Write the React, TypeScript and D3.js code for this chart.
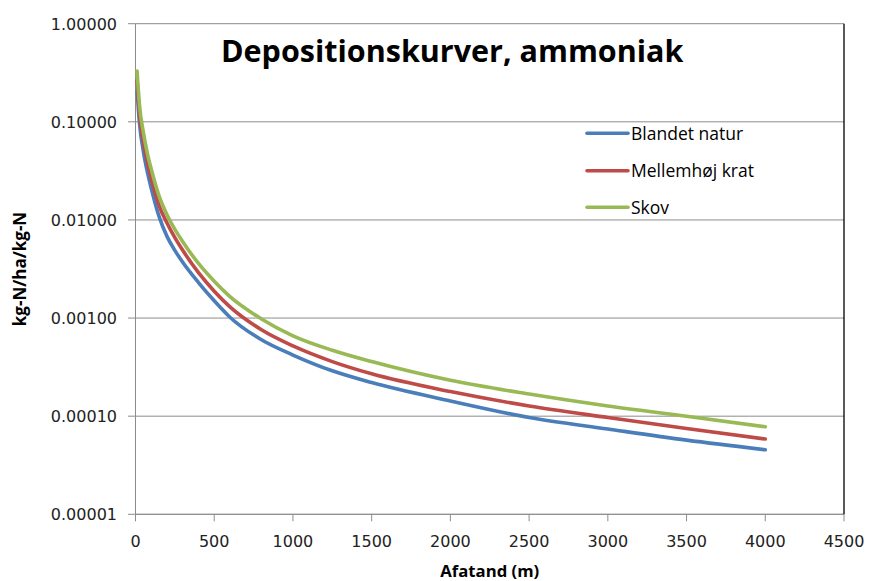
import React from "react";
import * as d3 from "d3";

const distances = [10, 25, 50, 75, 100, 150, 200, 250, 300, 400, 500, 600, 800, 1000, 1250, 1500, 2000, 2500, 3000, 3500, 4000];
const blandetNatur = [0.21, 0.098, 0.05, 0.031, 0.021, 0.0108, 0.0068, 0.0049, 0.0037, 0.0023, 0.0015, 0.00102, 0.0006, 0.00042, 0.00029, 0.00022, 0.000143, 0.000097, 0.000074, 0.000057, 0.0000455];
const mellemhojKrat = [0.265, 0.122, 0.063, 0.039, 0.0265, 0.014, 0.0093, 0.0066, 0.0049, 0.0029, 0.00188, 0.0013, 0.00076, 0.00052, 0.00036, 0.00027, 0.000178, 0.000127, 0.000097, 0.000075, 0.0000585];
const skov = [0.33, 0.15, 0.078, 0.048, 0.033, 0.0175, 0.0113, 0.008, 0.006, 0.0036, 0.00237, 0.00165, 0.00098, 0.00066, 0.00047, 0.00036, 0.000232, 0.000168, 0.000127, 0.0001, 0.000078];

const seriesNames = ["Blandet natur", "Mellemhøj krat", "Skov"];
const seriesColors = ["#4A7EBB", "#BE4B48", "#98B954"];
const seriesValues = [blandetNatur, mellemhojKrat, skov];

const xTicks = [0, 500, 1000, 1500, 2000, 2500, 3000, 3500, 4000, 4500];
const yTicks = [0.00001, 0.0001, 0.001, 0.01, 0.1, 1];

const title = "Depositionskurver, ammoniak";
const xTitle = "Afatand (m)";
const yTitle = "kg-N/ha/kg-N";

export default function App() {
  const W = 869, H = 581;
  const left = 135.5, right = 844, top = 23.7, bottom = 514.3;
  const x = d3.scaleLinear().domain([0, 4500]).range([left, right]);
  const y = d3.scaleLog().domain([0.00001, 1]).range([bottom, top]);
  const fmt = d3.format(".5f");
  const line = d3.line<[number, number]>()
    .x((d) => x(d[0]))
    .y((d) => y(d[1]))
    .curve(d3.curveMonotoneX);

  const tickFont = "'DejaVu Sans', sans-serif";
  const mainFont = "'Open Sans', sans-serif";

  return (
    <svg width={W} height={H} style={{ position: "absolute", left: 0, top: 0, background: "#fff" }}>
      {yTicks.map((t) => (
        <line key={"g" + t} x1={left} x2={right} y1={y(t)} y2={y(t)} stroke="#8c8c8c" strokeWidth={1} />
      ))}
      {yTicks.map((t) => (
        <line key={"yt" + t} x1={left - 7.5} x2={left} y1={y(t)} y2={y(t)} stroke="#8c8c8c" strokeWidth={1} />
      ))}
      {xTicks.map((t) => (
        <line key={"xt" + t} x1={x(t)} x2={x(t)} y1={bottom} y2={bottom + 7} stroke="#8c8c8c" strokeWidth={1} />
      ))}
      <line x1={left} x2={left} y1={top} y2={bottom} stroke="#8c8c8c" strokeWidth={1} />
      <line x1={left} x2={right} y1={bottom} y2={bottom} stroke="#8c8c8c" strokeWidth={1} />
      <line x1={right} x2={right} y1={top} y2={bottom} stroke="#000" strokeWidth={1.3} />

      {yTicks.map((t) => (
        <text key={"yl" + t} x={117} y={y(t) + 5.8} textAnchor="end" fontFamily={tickFont} fontSize={16} fill="#222">
          {fmt(t)}
        </text>
      ))}
      {xTicks.map((t) => (
        <text key={"xl" + t} x={x(t)} y={547} textAnchor="middle" fontFamily={tickFont} fontSize={16} fill="#222">
          {t}
        </text>
      ))}

      {seriesValues.map((vals, i) => (
        <path
          key={seriesNames[i]}
          d={line(distances.map((dd, j) => [dd, vals[j]] as [number, number])) || ""}
          fill="none"
          stroke={seriesColors[i]}
          strokeWidth={3.6}
          strokeLinecap="round"
          strokeLinejoin="round"
        />
      ))}

      <text x={221} y={61.7} fontFamily={mainFont} fontWeight={700} fontSize={30.5} fill="#000">
        {title}
      </text>

      {seriesNames.map((n, i) => {
        const ly = [133.3, 170.7, 207.3][i];
        return (
          <g key={"lg" + n}>
            <line x1={587} x2={628} y1={ly} y2={ly} stroke={seriesColors[i]} strokeWidth={3.6} strokeLinecap="round" />
            <text x={631} y={ly + 6.5} fontFamily={mainFont} fontSize={17.5} fill="#000">
              {n}
            </text>
          </g>
        );
      })}

      <text x={(left + right) / 2} y={576.5} textAnchor="middle" fontFamily={mainFont} fontWeight={700} fontSize={16.7} fill="#000">
        {xTitle}
      </text>
      <text
        transform={`translate(26,${(top + bottom) / 2}) rotate(-90)`}
        textAnchor="middle"
        fontFamily={mainFont}
        fontWeight={700}
        fontSize={17}
        fill="#000"
      >
        {yTitle}
      </text>
    </svg>
  );
}
